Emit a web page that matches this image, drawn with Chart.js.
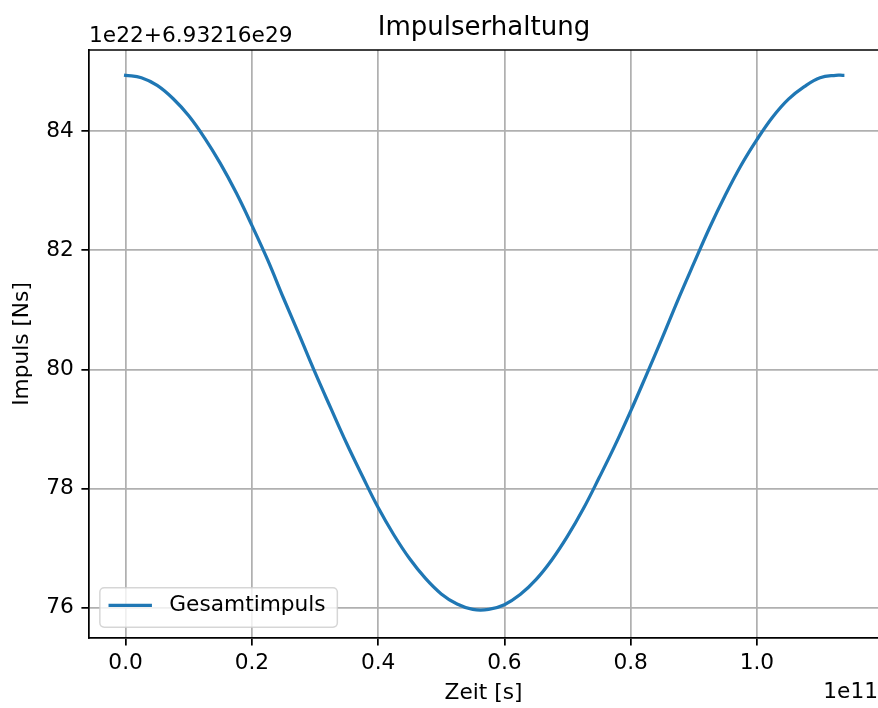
<!DOCTYPE html>
<html>
<head>
<meta charset="utf-8">
<script src="https://cdn.jsdelivr.net/npm/chart.js@4.4.1/dist/chart.umd.min.js"></script>
<style>
  html, body { margin: 0; padding: 0; background: #fff; overflow: hidden; }
  #wrap { width: 878px; height: 708px; }
</style>
</head>
<body>
<div id="wrap"><canvas id="chart" width="878" height="708"></canvas></div>
<script>
// Texts
const chartTitle = 'Impulserhaltung';
const seriesName = 'Gesamtimpuls';
const xAxisTitle = 'Zeit [s]';
const yAxisTitle = 'Impuls [Ns]';
const xOffsetLabel = '1e11';
const yOffsetLabel = '1e22+6.93216e29';

// Time in units of 1e11 s
const timeValues = [
  0, 0.025, 0.05, 0.075, 0.10, 0.125, 0.15, 0.175, 0.20, 0.225,
  0.25, 0.275, 0.30, 0.325, 0.35, 0.375, 0.40, 0.425, 0.45, 0.475,
  0.50, 0.525, 0.55, 0.575, 0.60, 0.625, 0.65, 0.675, 0.70, 0.725,
  0.75, 0.775, 0.80, 0.825, 0.85, 0.875, 0.90, 0.925, 0.95, 0.975,
  1.00, 1.025, 1.05, 1.075, 1.10, 1.125, 1.136
];
// Total momentum in units of 1e22 Ns above 6.93216e29 Ns
const impulseValues = [
  84.94, 84.90, 84.77, 84.55, 84.26, 83.89, 83.46, 82.97, 82.42, 81.84,
  81.20, 80.58, 79.95, 79.35, 78.76, 78.21, 77.68, 77.22, 76.82, 76.49,
  76.23, 76.06, 75.97, 75.97, 76.05, 76.22, 76.47, 76.80, 77.20, 77.66,
  78.18, 78.72, 79.30, 79.91, 80.53, 81.17, 81.78, 82.38, 82.93, 83.43,
  83.86, 84.24, 84.54, 84.75, 84.90, 84.94, 84.94
];

const xTickValues = [0, 0.2, 0.4, 0.6, 0.8, 1.0];
const yTickValues = [76, 78, 80, 82, 84];

const FONT = '"DejaVu Sans", sans-serif';
const PT = 2.17;            // pixels per point
const fs = 10 * PT;         // tick / label / legend size
const titleFs = 12 * PT;
const C0 = '#1f77b4';

// Top spine, title, offset labels and the legend box
const decorations = {
  id: 'decorations',
  afterDraw(chart) {
    const { ctx, chartArea: a } = chart;
    ctx.save();

    ctx.strokeStyle = '#000';
    ctx.lineWidth = 0.8 * PT;
    ctx.beginPath();
    ctx.moveTo(a.left - 0.8, a.top);
    ctx.lineTo(a.right, a.top);
    ctx.stroke();

    ctx.fillStyle = '#000';
    ctx.font = `${titleFs}px ${FONT}`;
    ctx.textAlign = 'center';
    ctx.textBaseline = 'alphabetic';
    ctx.fillText(chartTitle, (a.left + a.right + 1) / 2, a.top - 15);

    ctx.font = `${fs}px ${FONT}`;
    ctx.textAlign = 'left';
    ctx.fillText(yOffsetLabel, a.left, a.top - 8.5);
    ctx.textAlign = 'right';
    ctx.fillText(xOffsetLabel, a.right, a.bottom + 60);

    // legend (lower left)
    const pad = 0.4 * fs, handle = 2 * fs, gap = 0.8 * fs;
    const tw = ctx.measureText(seriesName).width;
    const w = pad + handle + gap + tw + pad + 3;
    const h = 2 * pad + fs * 1.02;
    const lx = a.left + 0.5 * fs;
    const ly = a.bottom - 0.5 * fs - h;
    ctx.beginPath();
    ctx.roundRect(lx, ly, w, h, 0.2 * fs);
    ctx.fillStyle = 'rgba(255,255,255,0.8)';
    ctx.fill();
    ctx.strokeStyle = 'rgba(204,204,204,0.8)';
    ctx.lineWidth = 1.5;
    ctx.stroke();

    const cy = ly + h / 2 - 2;
    ctx.strokeStyle = C0;
    ctx.lineWidth = 1.5 * PT;
    ctx.beginPath();
    ctx.moveTo(lx + pad, cy);
    ctx.lineTo(lx + pad + handle, cy);
    ctx.stroke();

    ctx.fillStyle = '#000';
    ctx.textAlign = 'left';
    ctx.textBaseline = 'alphabetic';
    ctx.fillText(seriesName, lx + pad + handle + gap, cy + 6);

    ctx.restore();
  }
};

const axisGrid = {
  color: '#b0b0b0',
  lineWidth: 0.8 * PT,
  tickColor: '#000',
  tickWidth: 0.8 * PT,
  tickLength: 3.5 * PT
};

new Chart(document.getElementById('chart'), {
  type: 'line',
  data: {
    datasets: [{
      label: seriesName,
      data: timeValues.map((t, i) => ({ x: t, y: impulseValues[i] })),
      borderColor: C0,
      borderWidth: 1.5 * PT,
      pointRadius: 0,
      fill: false,
      tension: 0.4,
      borderCapStyle: 'square',
      borderJoinStyle: 'round'
    }]
  },
  options: {
    responsive: false,
    animation: false,
    devicePixelRatio: 1,
    layout: { padding: { left: 0, top: 50, right: 0, bottom: 0 } },
    plugins: {
      legend: { display: false },
      title: { display: false },
      tooltip: { enabled: false }
    },
    scales: {
      x: {
        type: 'linear',
        min: -0.058,
        max: 1.1918,
        afterBuildTicks: s => { s.ticks = xTickValues.map(v => ({ value: v })); },
        afterFit: s => { s.height = 70; },
        ticks: {
          callback: v => v.toFixed(1),
          font: { size: fs, family: FONT },
          color: '#000',
          padding: 5,
          maxRotation: 0,
          autoSkip: false
        },
        grid: axisGrid,
        border: { color: '#000', width: 0.8 * PT },
        title: {
          display: true, text: xAxisTitle, color: '#000',
          font: { size: fs, family: FONT },
          padding: { top: 0, bottom: 2 }
        }
      },
      y: {
        type: 'linear',
        min: 75.49,
        max: 85.365,
        afterBuildTicks: s => { s.ticks = yTickValues.map(v => ({ value: v })); },
        afterFit: s => { s.width = 89; },
        ticks: {
          callback: v => String(v),
          font: { size: fs, family: FONT },
          color: '#000',
          padding: 3.5 * PT,
          autoSkip: false
        },
        grid: axisGrid,
        border: { color: '#000', width: 0.8 * PT },
        title: {
          display: true, text: yAxisTitle, color: '#000',
          font: { size: fs, family: FONT },
          padding: { top: 9, bottom: 0 }
        }
      }
    }
  },
  plugins: [decorations]
});
</script>
</body>
</html>
